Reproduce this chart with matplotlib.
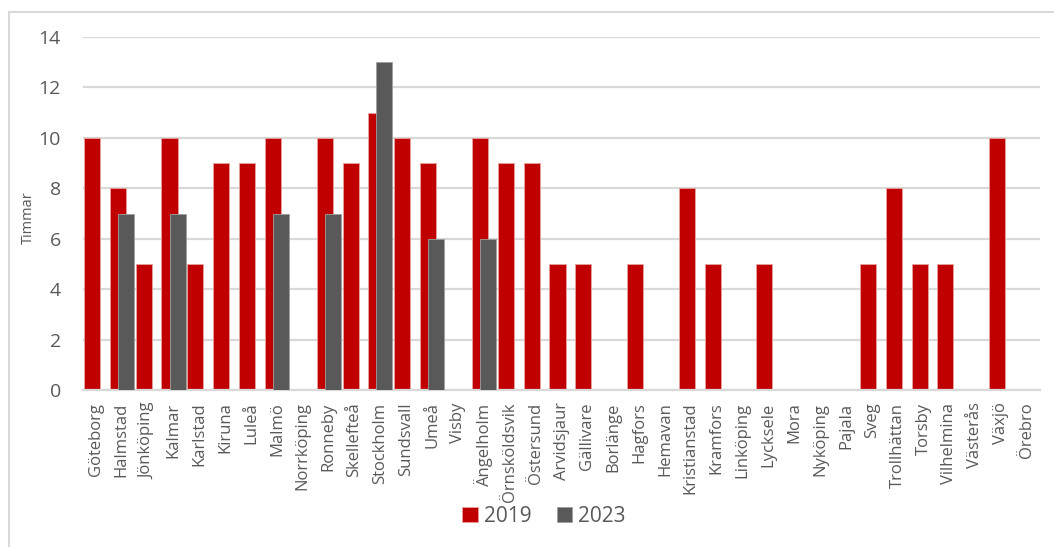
# 空港別の時間グラフ（2019 / 2023）

# --------------------------------------------
# インポート
# --------------------------------------------

import numpy as np
from matplotlib import pyplot as plt
from matplotlib.patches import Rectangle

# --------------------------------------------
# データ
# --------------------------------------------

# カテゴリ（空港）
airports = ["Göteborg", "Halmstad", "Jönköping", "Kalmar", "Karlstad", "Kiruna",
            "Luleå", "Malmö", "Norrköping", "Ronneby", "Skellefteå", "Stockholm",
            "Sundsvall", "Umeå", "Visby", "Ängelholm", "Örnsköldsvik", "Östersund",
            "Arvidsjaur", "Gällivare", "Borlänge", "Hagfors", "Hemavan",
            "Kristianstad", "Kramfors", "Linköping", "Lycksele", "Mora", "Nyköping",
            "Pajala", "Sveg", "Trollhättan", "Torsby", "Vilhelmina", "Västerås",
            "Växjö", "Örebro"]

# 2019年の値
hours_2019 = [10, 8, 5, 10, 5, 9, 9, 10, 0, 10, 9, 11, 10, 9, 0, 10, 9, 9,
              5, 5, 0, 5, 0, 8, 5, 0, 5, 0, 0, 0, 5, 8, 5, 5, 0, 10, 0]

# 2023年の値
hours_2023 = [0, 7, 0, 7, 0, 0, 0, 7, 0, 7, 0, 13, 0, 6, 0, 6, 0, 0,
              0, 0, 0, 0, 0, 0, 0, 0, 0, 0, 0, 0, 0, 0, 0, 0, 0, 0, 0]

series_labels = ["2019", "2023"]
y_ticks = [0, 2, 4, 6, 8, 10, 12, 14]

# --------------------------------------------
# 描画設定
# --------------------------------------------

plt.rcParams['font.family'] = ['Open Sans', 'DejaVu Sans']
text_color = "#595959"
grid_color = "#d9d9d9"
red = "#c00000"
gray = "#595959"

# 棒の幅（Excel風に半分重ねる）
bar_w = 0.62
offset = bar_w / 4

# --------------------------------------------
# 処理
# --------------------------------------------

fig = plt.figure(figsize=(10.54, 5.47), dpi=100)
ax = fig.add_axes([83 / 1054, 1 - 390 / 547, (1040 - 83) / 1054, (390 - 37) / 547])

x = np.arange(len(airports))
ax.bar(x - offset, hours_2019, width=bar_w, color=red, edgecolor="#e8a0a0",
       linewidth=0.6, label=series_labels[0], zorder=2)
ax.bar(x + offset, hours_2023, width=bar_w, color=gray, edgecolor="#a0a0a0",
       linewidth=0.6, label=series_labels[1], zorder=3)

# 軸範囲と目盛
ax.set_xlim(-0.5, len(airports) - 0.5)
ax.set_ylim(0, 14)
ax.set_yticks(y_ticks)
ax.set_xticks(x)
ax.set_xticklabels(airports, rotation=90, fontsize=12, color=text_color)
ax.tick_params(axis='y', labelsize=14, labelcolor=text_color, length=0, pad=16)
ax.tick_params(axis='x', length=0, pad=9)

# グリッド
ax.grid(axis='y', color=grid_color, linewidth=1.6, zorder=0)
ax.set_axisbelow(True)
for side in ["top", "right", "left"]:
    ax.spines[side].set_visible(False)
ax.spines["bottom"].set_color(grid_color)
ax.spines["bottom"].set_linewidth(1.6)

# 縦軸ラベル
ax.set_ylabel("Timmar", fontsize=10.5, color=text_color, va='center')
ax.yaxis.set_label_coords((28 - 83) / 957, (390 - 218) / 353)

# 凡例
fig.legend(loc='center', bbox_to_anchor=(544 / 1054, 1 - 516 / 547), ncol=2,
           frameon=False, fontsize=15, labelcolor=text_color,
           handlelength=0.75, handleheight=0.75, handletextpad=0.3, columnspacing=1.2)

# 外枠
fig.patches.append(Rectangle((9 / 1054, -0.1), 1.2, 1 - 12 / 547 + 0.1,
                             transform=fig.transFigure, fill=False,
                             edgecolor=grid_color, linewidth=1.5))

fig.savefig("out.png", dpi=100)
